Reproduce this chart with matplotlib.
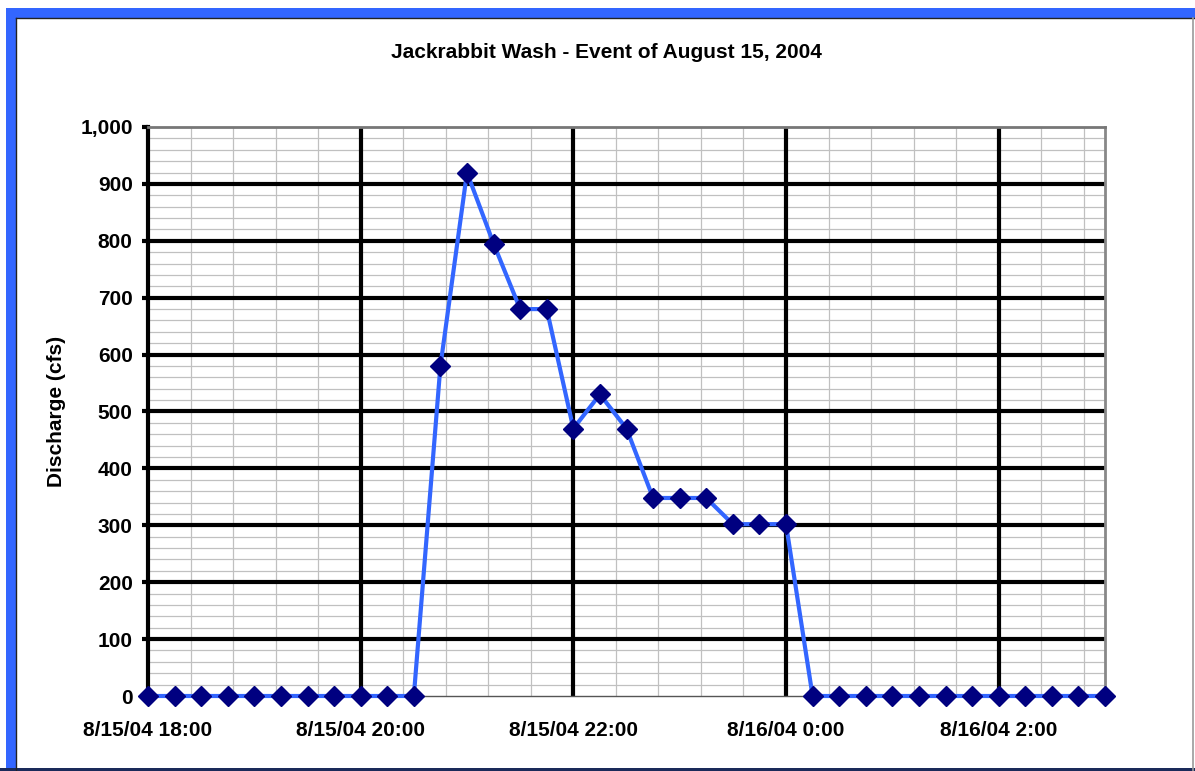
import datetime as dt
import numpy as np
import matplotlib
matplotlib.use('Agg')
import matplotlib.pyplot as plt
import matplotlib.dates as mdates
from matplotlib.ticker import FuncFormatter, FixedLocator, MultipleLocator
from matplotlib.patches import Rectangle

plt.rcParams['font.family'] = ['Liberation Sans', 'DejaVu Sans']

# 15-minute readings, 8/15/04 18:00 to 8/16/04 3:00
start = dt.datetime(2004, 8, 15, 18, 0)
times = [start + dt.timedelta(minutes=15 * i) for i in range(37)]
discharge = [0, 0, 0, 0, 0, 0, 0, 0, 0, 0, 0,
             580, 920, 795, 680, 680, 470, 530, 470, 348, 348, 348, 302, 302, 302,
             0, 0, 0, 0, 0, 0, 0, 0, 0, 0, 0, 0]
title = 'Jackrabbit Wash - Event of August 15, 2004'
y_label = 'Discharge (cfs)'

W, H = 1195, 771
fig = plt.figure(figsize=(W / 100, H / 100), dpi=100)

# window frame (blue selection border)
frame = fig.add_axes([0, 0, 1, 1], zorder=-5)
frame.set_xlim(0, W)
frame.set_ylim(H, 0)
frame.axis('off')
frame.add_patch(Rectangle((6, 8), W - 6, 10, color='#3366ff', lw=0))
frame.add_patch(Rectangle((6, 8), 10, H - 8, color='#3366ff', lw=0))
frame.plot([16, W], [18, 18], color='#222222', lw=1)
frame.plot([16, 16], [18, H], color='#222222', lw=1)
frame.plot([W - 2, W - 2], [18, H], color='#999999', lw=1.2)
frame.add_patch(Rectangle((0, H - 3), W, 3, color='#1a2a5a', lw=0))

ax = fig.add_axes([148 / W, (H - 696) / H, (1105 - 148) / W, (696 - 127) / H])

x0 = mdates.date2num(times[0])
x1 = mdates.date2num(times[-1])
ax.set_xlim(x0, x1)
ax.set_ylim(0, 1000)

# gridlines: minor grey first, major black on top
major_x = [mdates.date2num(start + dt.timedelta(hours=2 * i)) for i in range(5)]
minor_x = [mdates.date2num(start + dt.timedelta(minutes=24 * i)) for i in range(23)]
for v in minor_x:
    ax.axvline(v, color='#c0c0c0', lw=0.9, zorder=0.5)
for v in range(20, 1000, 20):
    ax.axhline(v, color='#c0c0c0', lw=0.9, zorder=0.5)
for v in range(100, 1000, 100):
    ax.axhline(v, color='black', lw=3, zorder=1)
for v in major_x[1:]:
    ax.axvline(v, color='black', lw=3, zorder=1)

ax.xaxis.set_major_locator(FixedLocator(major_x))
ax.yaxis.set_major_locator(MultipleLocator(100))

def fmt_time(v, pos):
    d = mdates.num2date(v)
    return f'{d.month}/{d.day}/{d.strftime("%y")} {d.hour}:{d.minute:02d}'

ax.xaxis.set_major_formatter(FuncFormatter(fmt_time))
ax.yaxis.set_major_formatter(FuncFormatter(lambda v, p: f'{v:,.0f}'))

ax.plot(mdates.date2num(times), discharge, color='#3366ff', lw=3,
        marker='D', markersize=10, markerfacecolor='#000080',
        markeredgecolor='#000080', clip_on=False, zorder=5)

ax.spines['left'].set_linewidth(3)
ax.spines['left'].set_color('black')
ax.spines['left'].set_zorder(2)
ax.spines['bottom'].set_linewidth(1)
ax.spines['bottom'].set_color('#555555')
ax.spines['top'].set_linewidth(2)
ax.spines['top'].set_color('#777777')
ax.spines['right'].set_linewidth(2)
ax.spines['right'].set_color('#888888')

ax.tick_params(axis='y', which='major', length=4, width=3, pad=7, labelsize=15)
ax.tick_params(axis='x', which='both', length=0, pad=18, labelsize=15)
for lbl in ax.get_xticklabels() + ax.get_yticklabels():
    lbl.set_fontweight('bold')

ax.set_ylabel(y_label, fontsize=15, fontweight='bold')
ax.yaxis.set_label_coords((66 - 148) / (1105 - 148), (696 - 411) / (696 - 127))
fig.text(606 / W, 1 - 53 / H, title, ha='center', va='center',
         fontsize=15, fontweight='bold')

fig.savefig('out.png', dpi=100)
